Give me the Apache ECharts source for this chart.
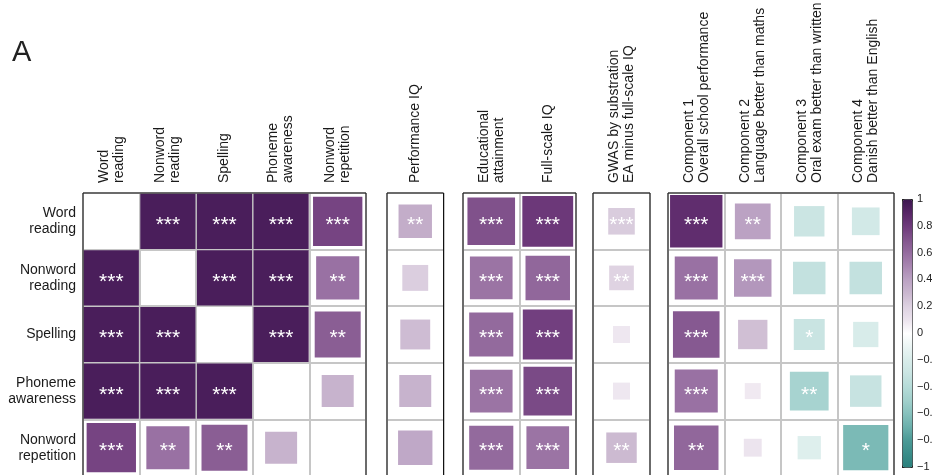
<!DOCTYPE html>
<html>
<head>
<meta charset="utf-8">
<script src="https://cdn.jsdelivr.net/npm/echarts@6/dist/echarts.min.js"></script>
<style>
html,body{margin:0;padding:0;background:#fff;}
#chart{width:932px;height:475px;}
</style>
</head>
<body>
<div id="chart"></div>
<script>
// ---------- DATA ----------
const rowLabels = ['Word\nreading', 'Nonword\nreading', 'Spelling', 'Phoneme\nawareness', 'Nonword\nrepetition'];

const readingCols = ['Word\nreading', 'Nonword\nreading', 'Spelling', 'Phoneme\nawareness', 'Nonword\nrepetition'];
const readingValues = [
  [null, 0.95, 0.95, 0.95, 0.76],
  [0.95, null, 0.95, 0.95, 0.58],
  [0.95, 0.95, null, 0.95, 0.66],
  [0.95, 0.95, 0.95, null, 0.32],
  [0.76, 0.58, 0.66, 0.32, null]
];
const readingStars = [
  ['', '***', '***', '***', '***'],
  ['***', '', '***', '***', '**'],
  ['***', '***', '', '***', '**'],
  ['***', '***', '***', '', ''],
  ['***', '**', '**', '', '']
];

const piqCols = ['Performance IQ'];
const piqValues = [[0.35], [0.21], [0.28], [0.32], [0.37]];
const piqStars = [['**'], [''], [''], [''], ['']];

const eaCols = ['Educational\nattainment', 'Full-scale IQ'];
const eaValues = [[0.71, 0.81], [0.57, 0.62], [0.61, 0.78], [0.57, 0.74], [0.61, 0.57]];
const eaStars = [['***', '***'], ['***', '***'], ['***', '***'], ['***', '***'], ['***', '***']];

const gwasCols = ['GWAS by substration\nEA minus full-scale IQ'];
const gwasValues = [[0.22], [0.19], [0.09], [0.09], [0.29]];
const gwasStars = [['***'], ['**'], [''], [''], ['**']];

const compCols = ['Component 1\nOverall school performance', 'Component 2\nLanguage better than maths',
                  'Component 3\nOral exam better than written', 'Component 4\nDanish better than English'];
const compValues = [
  [0.86, 0.40, -0.29, -0.24],
  [0.58, 0.44, -0.33, -0.33],
  [0.68, 0.27, -0.30, -0.20],
  [0.58, 0.08, -0.47, -0.31],
  [0.62, 0.10, -0.17, -0.64]
];
const compStars = [
  ['***', '**', '', ''],
  ['***', '***', '', ''],
  ['***', '', '*', ''],
  ['***', '', '**', ''],
  ['**', '', '', '*']
];

const colorbarTicks = [-1, -0.8, -0.6, -0.4, -0.2, 0, 0.2, 0.4, 0.6, 0.8, 1];

// ---------- LAYOUT / STYLE ----------
const FONT = "'Liberation Sans', Arial, Helvetica, sans-serif";
const TOP = 193, HEIGHT = 283;
const groups = [
  {cols: readingCols, vals: readingValues, stars: readingStars, left: 83, width: 283},
  {cols: piqCols, vals: piqValues, stars: piqStars, left: 387, width: 56.5},
  {cols: eaCols, vals: eaValues, stars: eaStars, left: 463, width: 113},
  {cols: gwasCols, vals: gwasValues, stars: gwasStars, left: 593, width: 57},
  {cols: compCols, vals: compValues, stars: compStars, left: 668, width: 226}
];

const rampColors = [
  '#2a807c', '#3a8d89', '#4b9a96', '#6aafab', '#86c1bd', '#a1d0cc', '#b5dbd8', '#c9e4e2', '#d8ecea', '#ebf5f4',
  '#ffffff',
  '#ece4ee', '#ddd1e1', '#cab7cf', '#bba2c3', '#a886b1', '#956c9f', '#82548d', '#6e3a7b', '#572566', '#3d1650'
];

const grids = [], xAxes = [], yAxes = [], series = [];
groups.forEach((g, gi) => {
  grids.push({left: g.left, top: TOP, width: g.width, height: HEIGHT, show: true, outerBoundsMode: 'none', containLabel: false,
    borderColor: '#111', borderWidth: 1, backgroundColor: 'transparent', z: 5});
  xAxes.push({type: 'category', gridIndex: gi, data: g.cols, position: 'top',
    axisLine: {show: false}, axisTick: {show: false},
    axisLabel: {rotate: -90, interval: 0, margin: 10, fontSize: 14, lineHeight: 15, color: '#1a1a1a', fontFamily: FONT},
    splitLine: {show: true, interval: 0, lineStyle: {color: '#c6c6c6', width: 2}}});
  yAxes.push({type: 'category', gridIndex: gi, data: rowLabels, inverse: true,
    axisLine: {show: false}, axisTick: {show: false},
    axisLabel: {show: gi === 0, interval: 0, margin: 7, fontSize: 14, lineHeight: 16, color: '#1a1a1a', fontFamily: FONT, align: 'right'},
    splitLine: {show: true, interval: 0, lineStyle: {color: '#c6c6c6', width: 2}}});
  const data = [];
  g.vals.forEach((row, ri) => row.forEach((v, ci) => {
    if (v !== null) data.push([ci, ri, v, g.stars[ri][ci]]);
  }));
  series.push({
    type: 'custom', xAxisIndex: gi, yAxisIndex: gi, data: data,
    encode: {x: 0, y: 1}, z: 2,
    renderItem: function (params, api) {
      const c = api.coord([api.value(0), api.value(1)]);
      const sz = api.size([1, 1]);
      const v = api.value(2);
      const cell = Math.min(sz[0], sz[1]);
      const side = Math.sqrt(Math.abs(v)) * cell;
      const stars = data[params.dataIndex][3];
      return {
        type: 'group',
        children: [
          {type: 'rect', shape: {x: c[0] - side / 2, y: c[1] - side / 2, width: side, height: side},
            style: {fill: api.visual('color')}},
          {type: 'text', style: {text: stars, x: c[0], y: c[1] + 4, fill: '#ffffff',
            font: '21px ' + FONT, align: 'center', verticalAlign: 'middle'}}
        ]
      };
    }
  });
});

// colour bar tick axis
grids.push({left: 902, top: 199, width: 10, height: 268, show: false, outerBoundsMode: 'none', containLabel: false});
xAxes.push({type: 'value', gridIndex: 5, show: false, min: 0, max: 1});
yAxes.push({type: 'value', gridIndex: 5, position: 'right', min: colorbarTicks[0], max: colorbarTicks[colorbarTicks.length - 1], interval: 0.2,
  axisLine: {show: false}, splitLine: {show: false},
  axisTick: {show: true, length: 3, lineStyle: {color: '#222', width: 1}},
  axisLabel: {margin: 5, fontSize: 11, color: '#222', fontFamily: FONT,
    formatter: function (v) { return String(Math.round(v * 10) / 10).replace('-', '\u2212'); }}});

const chart = echarts.init(document.getElementById('chart'), null, {renderer: 'canvas'});
chart.setOption({
  animation: false,
  backgroundColor: '#ffffff',
  title: {text: 'A', left: 12, top: 38, padding: 0, textStyle: {fontSize: 29, fontWeight: 'normal', color: '#222', fontFamily: FONT}},
  grid: grids,
  xAxis: xAxes,
  yAxis: yAxes,
  visualMap: {
    type: 'continuous', min: -1, max: 1, dimension: 2, seriesIndex: [0, 1, 2, 3, 4],
    calculable: false, orient: 'vertical', left: 902, top: 199, itemWidth: 10, itemHeight: 268,
    padding: 0, borderColor: '#222', borderWidth: 1, text: null,
    inRange: {color: rampColors}
  },
  series: series
});
</script>
</body>
</html>
